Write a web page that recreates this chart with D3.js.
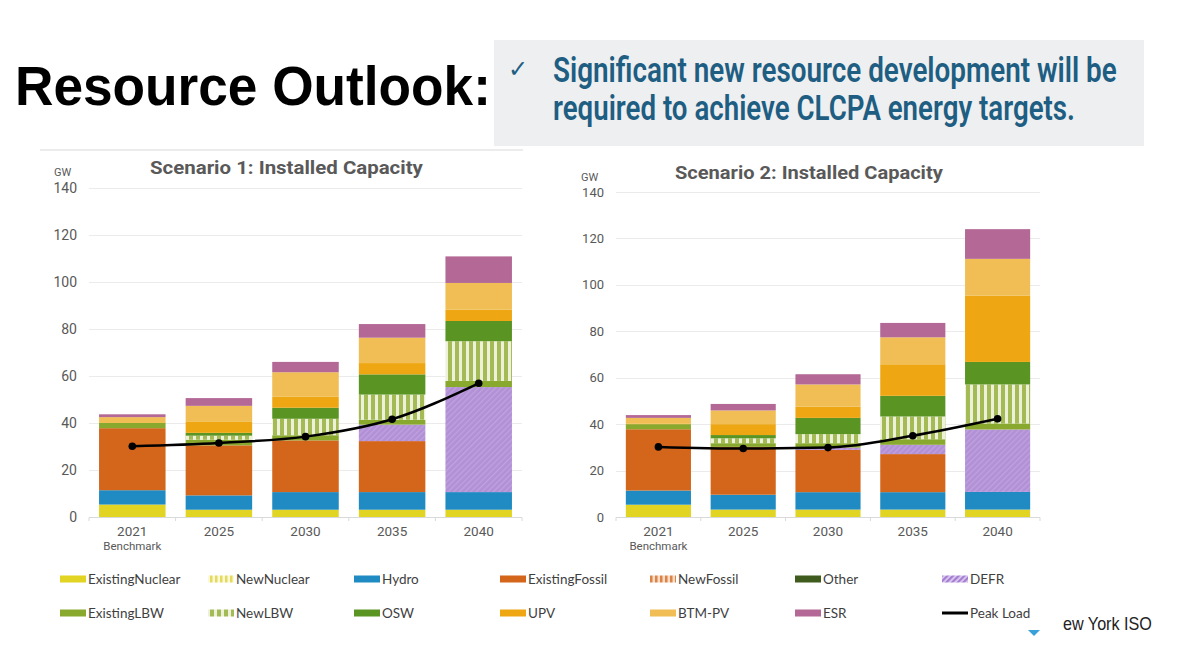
<!DOCTYPE html>
<html>
<head>
<meta charset="utf-8">
<script src="https://cdn.jsdelivr.net/npm/d3@7"></script>
<style>
  html, body { margin: 0; padding: 0; background: #ffffff; }
  svg { display: block; }
</style>
</head>
<body>
<svg id="chart" width="1200" height="667"></svg>
<script>
// ---------------- DATA ----------------
const categories = ["2021", "2025", "2030", "2035", "2040"];
const subLabels = ["Benchmark", "", "", "", ""];
const seriesNames = ["ExistingNuclear", "NewNuclear", "Hydro", "ExistingFossil", "NewFossil", "Other", "DEFR",
                     "ExistingLBW", "NewLBW", "OSW", "UPV", "BTM-PV", "ESR"];
const yTicks = [0, 20, 40, 60, 80, 100, 120, 140];

// Scenario 1 (GW)
const s1ExistingNuclear = [5.3, 3.1, 3.1, 3.1, 3.1];
const s1NewNuclear      = [0, 0, 0, 0, 0];
const s1Hydro           = [6.1, 6.1, 7.5, 7.5, 7.5];
const s1ExistingFossil  = [26.4, 21.3, 22.0, 21.7, 0];
const s1NewFossil       = [0, 0, 0, 0, 0];
const s1Other           = [0, 0, 0, 0, 0];
const s1DEFR            = [0, 0, 0, 7.0, 44.7];
const s1ExistingLBW     = [2.2, 2.4, 2.2, 2.1, 2.6];
const s1NewLBW          = [0, 1.7, 7.0, 10.7, 16.9];
const s1OSW             = [0, 1.2, 4.7, 8.6, 8.6];
const s1UPV             = [0.3, 4.9, 4.8, 4.8, 4.8];
const s1BTMPV           = [2.2, 6.6, 10.3, 10.8, 11.4];
const s1ESR             = [1.2, 3.3, 4.4, 5.8, 11.3];
const s1PeakLoad        = [30.1, 31.5, 34.2, 41.6, 56.9];

// Scenario 2 (GW)
const s2ExistingNuclear = [5.3, 3.2, 3.2, 3.2, 3.2];
const s2NewNuclear      = [0, 0, 0, 0, 0];
const s2Hydro           = [6.1, 6.4, 7.5, 7.5, 7.6];
const s2ExistingFossil  = [26.4, 20.6, 18.2, 16.4, 0];
const s2NewFossil       = [0, 0, 0, 0, 0];
const s2Other           = [0, 0, 0, 0, 0];
const s2DEFR            = [0, 0, 1.0, 4.0, 26.9];
const s2ExistingLBW     = [2.2, 1.6, 1.9, 2.4, 2.6];
const s2NewLBW          = [0, 2.1, 3.9, 9.8, 16.8];
const s2OSW             = [0, 1.4, 7.0, 8.9, 9.7];
const s2UPV             = [0.3, 4.7, 4.8, 13.6, 28.6];
const s2BTMPV           = [2.4, 5.9, 9.6, 11.6, 15.8];
const s2ESR             = [1.2, 2.8, 4.4, 6.2, 12.8];
const s2PeakLoad        = [30.2, 29.5, 29.9, 35.0, 42.3];

const s1Series = [s1ExistingNuclear, s1NewNuclear, s1Hydro, s1ExistingFossil, s1NewFossil, s1Other, s1DEFR,
                  s1ExistingLBW, s1NewLBW, s1OSW, s1UPV, s1BTMPV, s1ESR];
const s2Series = [s2ExistingNuclear, s2NewNuclear, s2Hydro, s2ExistingFossil, s2NewFossil, s2Other, s2DEFR,
                  s2ExistingLBW, s2NewLBW, s2OSW, s2UPV, s2BTMPV, s2ESR];

// ---------------- STYLE ----------------
const fills = {
  "ExistingNuclear": "#E1D422",
  "NewNuclear": "url(#pNewNuc)",
  "Hydro": "#1F8BC2",
  "ExistingFossil": "#D4661C",
  "NewFossil": "url(#pNewFos)",
  "Other": "#3F5B1E",
  "DEFR": "url(#pDEFR)",
  "ExistingLBW": "#89A82E",
  "NewLBW": "url(#pNewLBW)",
  "OSW": "#5A9422",
  "UPV": "#EEA713",
  "BTM-PV": "#F0BE54",
  "ESR": "#B36896"
};
const legendFills = Object.assign({}, fills, {"DEFR": "url(#pDEFRleg)"});
const txtGray = "#595959";

const svg = d3.select("#chart");
const defs = svg.append("defs");

// squeeze/stretch a text horizontally so that its real box has the given width
function fitText(sel, x, width) {
  const w = sel.node().getComputedTextLength();
  const k = width / w;
  sel.attr("transform", `translate(${x},0) scale(${k},1) translate(${-x},0)`);
  return sel;
}

function stripePattern(id, w, h, bg, fg, fw) {
  const p = defs.append("pattern").attr("id", id).attr("patternUnits", "userSpaceOnUse")
    .attr("width", w).attr("height", h);
  p.append("rect").attr("width", w).attr("height", h).attr("fill", bg);
  p.append("rect").attr("width", fw).attr("height", h).attr("fill", fg);
}
stripePattern("pNewLBW", 7, 10, "#EDF1DA", "#A3BA55", 4);
stripePattern("pNewNuc", 5, 10, "#FBF8D8", "#E3DA5E", 2.5);
stripePattern("pNewFos", 5, 10, "#F7DCC8", "#DC8448", 2.5);
(function () {
  const p = defs.append("pattern").attr("id", "pDEFR").attr("patternUnits", "userSpaceOnUse")
    .attr("width", 4).attr("height", 4).attr("patternTransform", "rotate(45)");
  p.append("rect").attr("width", 4).attr("height", 4).attr("fill", "#B290D6");
  p.append("rect").attr("width", 1.2).attr("height", 4).attr("fill", "#C0A2DE");
  const q = defs.append("pattern").attr("id", "pDEFRleg").attr("patternUnits", "userSpaceOnUse")
    .attr("width", 4).attr("height", 4).attr("patternTransform", "rotate(45)");
  q.append("rect").attr("width", 4).attr("height", 4).attr("fill", "#DCCBF0");
  q.append("rect").attr("width", 2.2).attr("height", 4).attr("fill", "#A47CD0");
})();

// ---------------- HEADER ----------------
fitText(svg.append("text").attr("x", 15).attr("y", 105)
  .attr("font-family", "Liberation Sans, Arial, sans-serif").attr("font-weight", "bold")
  .attr("font-size", 56).attr("fill", "#000")
  .text("Resource Outlook:"), 15, 476);

svg.append("rect").attr("x", 494).attr("y", 40).attr("width", 650).attr("height", 106).attr("fill", "#EEEFF1");
svg.append("text").attr("x", 508).attr("y", 77)
  .attr("font-family", "DejaVu Sans, sans-serif").attr("font-size", 24).attr("fill", "#1E5E82").text("✓");
fitText(svg.append("text").attr("x", 553).attr("y", 82)
  .attr("font-family", "Roboto, sans-serif").attr("font-weight", 600).attr("font-size", 35)
  .attr("fill", "#1E5E82")
  .text("Significant new resource development will be"), 553, 564);
fitText(svg.append("text").attr("x", 553).attr("y", 120)
  .attr("font-family", "Roboto, sans-serif").attr("font-weight", 600).attr("font-size", 35)
  .attr("fill", "#1E5E82")
  .text("required to achieve CLCPA energy targets."), 553, 522);

svg.append("line").attr("x1", 40).attr("x2", 523).attr("y1", 150).attr("y2", 150)
  .attr("stroke", "#D9D9D9").attr("stroke-width", 1);

// ---------------- CHARTS ----------------
function drawChart(cfg) {
  const g = svg.append("g");
  const table = categories.map((c, i) => {
    const row = {cat: c};
    seriesNames.forEach((s, k) => row[s] = cfg.series[k][i]);
    return row;
  });
  const x = d3.scaleBand().domain(categories).range([cfg.x0, cfg.x1]).paddingInner(0.232).paddingOuter(0.116);
  const y = d3.scaleLinear().domain([0, 140]).range([cfg.yBottom, cfg.yTop]);

  // gridlines
  g.append("g").selectAll("line").data(yTicks).join("line")
    .attr("x1", cfg.x0).attr("x2", cfg.x1)
    .attr("y1", d => Math.round(y(d)) + 0.5).attr("y2", d => Math.round(y(d)) + 0.5)
    .attr("stroke", d => d === 0 ? "#D9D9D9" : "#EBEBEB").attr("stroke-width", 1);
  // small category ticks on baseline
  const bounds = d3.range(categories.length + 1).map(i => cfg.x0 + i * x.step());
  g.append("g").selectAll("line").data(bounds).join("line")
    .attr("x1", d => d).attr("x2", d => d)
    .attr("y1", Math.round(y(0)) + 0.5).attr("y2", Math.round(y(0)) + 4)
    .attr("stroke", "#D9D9D9");

  // y tick labels
  g.append("g").selectAll("text").data(yTicks).join("text")
    .attr("x", cfg.x0 - 12).attr("y", d => y(d)).attr("dy", "0.35em")
    .attr("text-anchor", "end").attr("font-family", "Roboto, Arial, sans-serif")
    .attr("font-size", cfg.tickSize).attr("fill", txtGray).text(d => d);
  g.append("text").attr("x", cfg.gwX).attr("y", cfg.gwY).attr("dy", "0.35em")
    .attr("font-family", "Roboto, Arial, sans-serif").attr("font-size", 11).attr("fill", txtGray).text("GW");

  // title
  const t = g.append("text").attr("x", cfg.titleX).attr("y", cfg.titleY).attr("dy", "0.35em")
    .attr("font-family", "Roboto, Arial, sans-serif").attr("font-weight", "bold")
    .attr("font-size", 18).attr("fill", txtGray).text(cfg.title);
  fitText(t, cfg.titleX, cfg.titleW);

  // stacked bars
  const stacked = d3.stack().keys(seriesNames)(table);
  g.append("g").selectAll("g").data(stacked).join("g")
    .attr("fill", d => fills[d.key])
    .selectAll("rect").data(d => d).join("rect")
    .attr("x", d => x(d.data.cat)).attr("width", x.bandwidth())
    .attr("y", d => y(d[1])).attr("height", d => Math.max(0, y(d[0]) - y(d[1])));

  // x labels
  g.append("g").selectAll("text").data(categories).join("text")
    .attr("x", d => x(d) + x.bandwidth() / 2).attr("y", cfg.yBottom + 14).attr("dy", "0.35em")
    .attr("text-anchor", "middle").attr("font-family", "Roboto, Arial, sans-serif")
    .attr("font-size", 13.5).attr("fill", txtGray).text(d => d);
  g.append("g").selectAll("text").data(categories).join("text")
    .attr("x", d => x(d) + x.bandwidth() / 2).attr("y", cfg.yBottom + 29).attr("dy", "0.35em")
    .attr("text-anchor", "middle").attr("font-family", "Roboto, Arial, sans-serif")
    .attr("font-size", 11.5).attr("fill", txtGray).text((d, i) => subLabels[i]);

  // peak load line
  const pts = categories.map((c, i) => [x(c) + x.bandwidth() / 2, y(cfg.peak[i])]);
  g.append("path").datum(pts)
    .attr("d", d3.line().curve(d3.curveMonotoneX))
    .attr("fill", "none").attr("stroke", "#000").attr("stroke-width", 2.5);
  g.append("g").selectAll("circle").data(pts).join("circle")
    .attr("cx", d => d[0]).attr("cy", d => d[1]).attr("r", 3.8).attr("fill", "#000");
}

drawChart({series: s1Series, peak: s1PeakLoad, x0: 89, x1: 522, yBottom: 517, yTop: 188,
  title: "Scenario 1: Installed Capacity", titleX: 150, titleY: 168, titleW: 273,
  gwX: 54, gwY: 172, tickSize: 14});
drawChart({series: s2Series, peak: s2PeakLoad, x0: 616, x1: 1040, yBottom: 517, yTop: 192,
  title: "Scenario 2: Installed Capacity", titleX: 675, titleY: 173, titleW: 268,
  gwX: 581, gwY: 177, tickSize: 13});

// ---------------- LEGEND ----------------
const legendItems = seriesNames.concat(["Peak Load"]);
const legendCols = [60, 208, 354, 500, 650, 795, 942];
const legendRows = [579, 613];
const lg = svg.append("g");
legendItems.forEach((name, i) => {
  const col = i % 7, row = Math.floor(i / 7);
  const lx = legendCols[col], ly = legendRows[row];
  if (name === "Peak Load") {
    lg.append("line").attr("x1", lx).attr("x2", lx + 26).attr("y1", ly).attr("y2", ly)
      .attr("stroke", "#000").attr("stroke-width", 3);
  } else {
    lg.append("rect").attr("x", lx).attr("y", ly - 3.5).attr("width", 26).attr("height", 7)
      .attr("fill", legendFills[name]);
  }
  lg.append("text").attr("x", lx + 28).attr("y", ly).attr("dy", "0.35em")
    .attr("font-family", "Lato, sans-serif").attr("font-size", 13.5).attr("fill", "#3F3F3F").text(name);
});

// footer fragment
fitText(svg.append("text").attr("x", 1063).attr("y", 623).attr("dy", "0.35em")
  .attr("font-family", "Liberation Sans, Arial, sans-serif").attr("font-size", 19).attr("fill", "#222")
  .text("ew York ISO"), 1063, 89);
svg.append("path").attr("d", "M1028,630 L1040,630 L1034,636 Z").attr("fill", "#3AA0D8");
</script>
</body>
</html>
